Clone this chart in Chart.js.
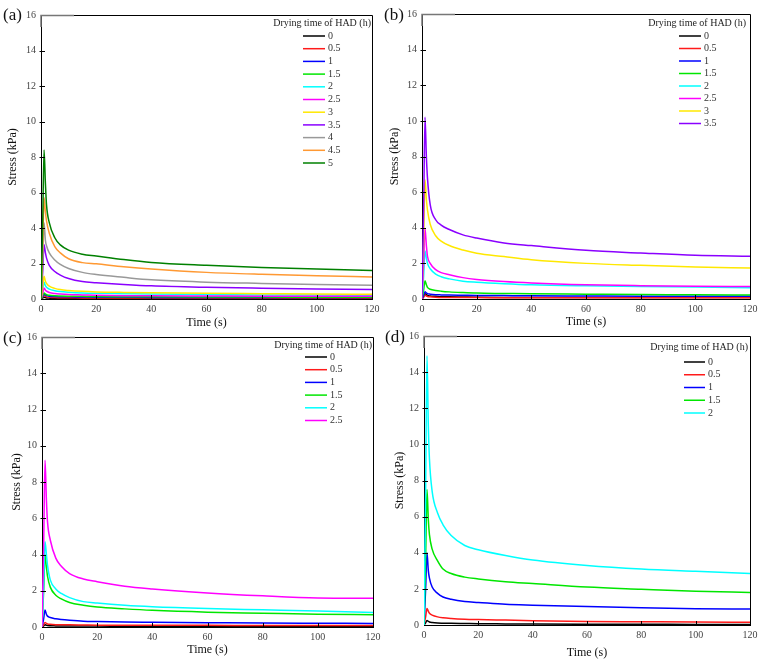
<!DOCTYPE html>
<html><head><meta charset="utf-8">
<script src="https://cdn.jsdelivr.net/npm/chart.js@4.4.1/dist/chart.umd.min.js"></script>
<style>
body{margin:0;background:#fff;width:765px;height:664px;position:relative;overflow:hidden;font-family:"Liberation Serif",serif}
canvas{position:absolute}
.lab{position:absolute;font:17px "Liberation Serif",serif;color:#111;line-height:20px}
</style></head><body>
<canvas id="ca" width="382" height="330" style="left:0;top:0"></canvas>
<canvas id="cb" width="383" height="330" style="left:382px;top:0"></canvas>
<canvas id="cc" width="382" height="334" style="left:0;top:330px"></canvas>
<canvas id="cd" width="383" height="334" style="left:382px;top:330px"></canvas>
<div class="lab" style="left:3px;top:5px">(a)</div>
<div class="lab" style="left:384px;top:5px">(b)</div>
<div class="lab" style="left:3px;top:328px">(c)</div>
<div class="lab" style="left:385px;top:327px">(d)</div>
<script>
// ---- data ----
const times = [0, 0.6, 1.1, 1.6, 2, 3, 5, 7, 10, 15, 20, 30, 40, 60, 80, 100, 120];
const xTicks = [0, 20, 40, 60, 80, 100, 120];
const yTicks = [0, 2, 4, 6, 8, 10, 12, 14, 16];
const legendTitle = 'Drying time of HAD (h)';
const xTitle = 'Time (s)';
const yTitle = 'Stress (kPa)';
const dryingTimes = ['0', '0.5', '1', '1.5', '2', '2.5', '3', '3.5', '4', '4.5', '5'];
const palette = ['#000000', '#ff1a1a', '#0000ff', '#00e600', '#00ffff', '#ff00ff', '#ffe800', '#8a00ff', '#999999', '#ff9933', '#008000'];

// panel (a)
const a_0  = [0, 0.05, 0.1, 0.08, 0.06, 0.05, 0.04, 0.04, 0.03, 0.03, 0.03, 0.03, 0.02, 0.02, 0.02, 0.02, 0.02];
const a_05 = [0, 0.1, 0.2, 0.15, 0.12, 0.1, 0.08, 0.07, 0.07, 0.06, 0.06, 0.05, 0.05, 0.05, 0.05, 0.05, 0.05];
const a_1  = [0, 0.13, 0.27, 0.22, 0.19, 0.16, 0.14, 0.13, 0.12, 0.11, 0.1, 0.1, 0.09, 0.09, 0.08, 0.08, 0.08];
const a_15 = [0, 0.17, 0.34, 0.28, 0.24, 0.21, 0.18, 0.17, 0.16, 0.15, 0.14, 0.13, 0.12, 0.11, 0.11, 0.1, 0.1];
const a_2  = [0, 0.45, 0.94, 0.75, 0.66, 0.56, 0.47, 0.42, 0.38, 0.34, 0.32, 0.3, 0.28, 0.25, 0.23, 0.22, 0.21];
const a_25 = [0, 0.3, 0.62, 0.5, 0.44, 0.37, 0.31, 0.28, 0.25, 0.23, 0.21, 0.19, 0.18, 0.17, 0.16, 0.16, 0.15];
const a_3  = [0, 0.6, 1.28, 1.0, 0.88, 0.72, 0.6, 0.53, 0.48, 0.43, 0.4, 0.37, 0.35, 0.32, 0.3, 0.28, 0.27];
const a_35 = [0, 1.5, 3.06, 2.6, 2.3, 1.9, 1.55, 1.35, 1.15, 0.98, 0.92, 0.82, 0.74, 0.66, 0.61, 0.57, 0.53];
const a_4  = [0, 2.1, 4.3, 3.3, 3.0, 2.6, 2.2, 1.95, 1.72, 1.5, 1.38, 1.22, 1.08, 0.95, 0.88, 0.82, 0.77];
const a_45 = [0, 2.8, 5.7, 4.9, 4.4, 3.7, 2.95, 2.6, 2.27, 2.05, 1.98, 1.82, 1.69, 1.5, 1.39, 1.31, 1.24];
const a_5  = [0, 4.1, 8.4, 6.5, 5.3, 4.3, 3.45, 3.05, 2.75, 2.52, 2.42, 2.22, 2.06, 1.9, 1.78, 1.69, 1.61];

// panel (b)
const b_0  = [0, 0.15, 0.3, 0.25, 0.2, 0.17, 0.15, 0.13, 0.12, 0.11, 0.1, 0.09, 0.09, 0.08, 0.08, 0.08, 0.08];
const b_05 = [0, 0.1, 0.22, 0.17, 0.14, 0.12, 0.1, 0.09, 0.09, 0.08, 0.08, 0.07, 0.07, 0.07, 0.07, 0.07, 0.07];
const b_1  = [0, 0.2, 0.41, 0.34, 0.3, 0.27, 0.24, 0.23, 0.22, 0.21, 0.2, 0.19, 0.18, 0.17, 0.16, 0.16, 0.15];
const b_15 = [0, 0.5, 1.03, 0.8, 0.65, 0.55, 0.48, 0.44, 0.4, 0.36, 0.33, 0.31, 0.29, 0.27, 0.25, 0.24, 0.22];
const b_2  = [0, 1.3, 2.7, 2.3, 2.0, 1.7, 1.4, 1.25, 1.13, 1.0, 0.94, 0.86, 0.8, 0.74, 0.7, 0.67, 0.63];
const b_25 = [0, 2.0, 3.97, 3.0, 2.4, 2.0, 1.65, 1.48, 1.36, 1.2, 1.1, 0.98, 0.9, 0.8, 0.75, 0.72, 0.7];
const b_3  = [0, 3.3, 6.7, 5.6, 5.0, 4.2, 3.55, 3.25, 3.0, 2.75, 2.57, 2.38, 2.2, 2.0, 1.89, 1.8, 1.74];
const b_35 = [0, 5.0, 10.2, 8.0, 6.8, 5.3, 4.45, 4.15, 3.9, 3.6, 3.42, 3.15, 3.0, 2.73, 2.58, 2.45, 2.4];

// panel (c)
const c_0  = [0, 0.06, 0.12, 0.1, 0.08, 0.07, 0.06, 0.05, 0.05, 0.05, 0.05, 0.04, 0.04, 0.04, 0.04, 0.04, 0.04];
const c_05 = [0, 0.12, 0.25, 0.2, 0.17, 0.15, 0.13, 0.12, 0.12, 0.11, 0.1, 0.1, 0.09, 0.09, 0.08, 0.08, 0.08];
const c_1  = [0, 0.45, 0.94, 0.7, 0.6, 0.52, 0.45, 0.41, 0.37, 0.32, 0.3, 0.27, 0.26, 0.24, 0.22, 0.21, 0.2];
const c_15 = [0, 2.0, 3.98, 3.3, 2.8, 2.2, 1.75, 1.55, 1.35, 1.2, 1.1, 1.0, 0.92, 0.82, 0.76, 0.7, 0.68];
const c_2  = [0, 2.3, 4.7, 4.0, 3.4, 2.6, 2.1, 1.85, 1.62, 1.4, 1.32, 1.2, 1.12, 1.02, 0.95, 0.88, 0.8];
const c_25 = [0, 4.5, 9.2, 7.0, 5.8, 4.8, 3.8, 3.35, 2.95, 2.65, 2.5, 2.25, 2.1, 1.88, 1.72, 1.6, 1.58];

// panel (d)
const d_0  = [0, 0.12, 0.25, 0.2, 0.17, 0.14, 0.11, 0.1, 0.09, 0.08, 0.07, 0.06, 0.05, 0.04, 0.04, 0.03, 0.03];
const d_05 = [0, 0.45, 0.92, 0.75, 0.65, 0.55, 0.45, 0.4, 0.36, 0.32, 0.3, 0.27, 0.24, 0.2, 0.18, 0.16, 0.15];
const d_1  = [0, 2.0, 4.0, 3.0, 2.6, 2.1, 1.75, 1.55, 1.42, 1.3, 1.25, 1.15, 1.1, 1.02, 0.95, 0.9, 0.88];
const d_15 = [0, 3.7, 7.5, 5.8, 5.0, 4.2, 3.55, 3.1, 2.85, 2.65, 2.55, 2.4, 2.3, 2.1, 1.98, 1.87, 1.8];
const d_2  = [0, 7.4, 14.9, 11.0, 9.2, 7.4, 6.2, 5.55, 4.95, 4.4, 4.17, 3.85, 3.6, 3.3, 3.1, 2.97, 2.85];

const seriesA = [a_0, a_05, a_1, a_15, a_2, a_25, a_3, a_35, a_4, a_45, a_5];
const seriesB = [b_0, b_05, b_1, b_15, b_2, b_25, b_3, b_35];
const seriesC = [c_0, c_05, c_1, c_15, c_2, c_25];
const seriesD = [d_0, d_05, d_1, d_15, d_2];

// ---- decoration plugin: frame, inward ticks, in-plot legend ----
const deco = {
  id: 'deco',
  afterDraw(chart, args, o) {
    const ctx = chart.ctx, a = chart.chartArea;
    const xs = chart.scales.x, ys = chart.scales.y;
    ctx.save();
    ctx.strokeStyle = '#000'; ctx.lineWidth = 1;
    ctx.beginPath();
    ctx.moveTo(a.left, a.top + 0.5); ctx.lineTo(a.right + 0.5, a.top + 0.5); ctx.lineTo(a.right + 0.5, a.bottom);
    ctx.stroke();
    // grey corner piece
    ctx.strokeStyle = '#777'; ctx.lineWidth = 1.5;
    ctx.beginPath();
    ctx.moveTo(a.left, a.top + 12); ctx.lineTo(a.left, a.top + 0.5); ctx.lineTo(a.left + 33, a.top + 0.5);
    ctx.stroke();
    // inward ticks
    ctx.strokeStyle = '#000'; ctx.lineWidth = 1;
    ctx.beginPath();
    xTicks.forEach(v => { if (v > 0 && v < 120) { const px = Math.round(xs.getPixelForValue(v)) + 0.5; ctx.moveTo(px, a.bottom); ctx.lineTo(px, a.bottom - 4); } });
    yTicks.forEach(v => { if (v > 0 && v < 16) { const py = Math.round(ys.getPixelForValue(v)) + 0.5; ctx.moveTo(a.left - 1.5, py); ctx.lineTo(a.left + 4, py); } });
    ctx.stroke();
    // legend
    ctx.font = '10px "Liberation Serif", serif';
    ctx.fillStyle = '#222';
    ctx.textBaseline = 'middle';
    ctx.textAlign = 'right';
    ctx.fillText(legendTitle, a.right + o.titleDx, a.top + o.titleDy);
    ctx.textAlign = 'left';
    chart.data.datasets.forEach((ds, i) => {
      const y = a.top + o.firstDy + i * o.step;
      ctx.strokeStyle = ds.borderColor; ctx.lineWidth = 1.5;
      ctx.beginPath(); ctx.moveTo(a.right + o.lineX1, y); ctx.lineTo(a.right + o.lineX2, y); ctx.stroke();
      ctx.fillStyle = '#333';
      ctx.fillText(ds.label, a.right + o.lineX2 + 3, y);
    });
    ctx.restore();
  }
};

function makePanel(id, series, L) {
  const n = series.length;
  const datasets = series.map((vals, i) => ({
    label: dryingTimes[i],
    data: times.map((t, k) => ({x: t, y: vals[k]})),
    borderColor: palette[i],
    backgroundColor: palette[i],
    borderWidth: 1.5,
    pointRadius: 0,
    fill: false,
    cubicInterpolationMode: 'monotone',
    order: n - i
  }));
  new Chart(document.getElementById(id), {
    type: 'line',
    data: {datasets},
    plugins: [deco],
    options: {
      responsive: false,
      animation: false,
      events: [],
      layout: {padding: {top: L.top, right: L.right, left: 0, bottom: 0}},
      plugins: {
        legend: {display: false},
        tooltip: {enabled: false},
        deco: L.legend
      },
      scales: {
        x: {
          type: 'linear', min: 0, max: 120,
          afterBuildTicks: s => { s.ticks = xTicks.map(v => ({value: v})); },
          afterFit: s => { s.height = L.xh; s.paddingLeft = 0; s.paddingRight = 0; },
          grid: {display: true, drawOnChartArea: false, drawTicks: false},
          border: {display: true, color: '#000', width: 1},
          ticks: {color: '#444', padding: 4, maxRotation: 0, font: {family: '"Liberation Serif", serif', size: 10}},
          title: {display: true, text: xTitle, color: '#111', padding: {top: 0, bottom: L.xtp}, font: {family: '"Liberation Serif", serif', size: 12}}
        },
        y: {
          min: 0, max: 16,
          afterBuildTicks: s => { s.ticks = yTicks.map(v => ({value: v})); },
          afterFit: s => { s.width = L.yw; s.paddingTop = 0; s.paddingBottom = 0; },
          grid: {display: true, drawOnChartArea: false, drawTicks: false},
          border: {display: true, color: '#000', width: 1},
          ticks: {color: '#444', padding: 5, font: {family: '"Liberation Serif", serif', size: 10}},
          title: {display: true, text: yTitle, color: '#111', padding: {top: L.ytp, bottom: 0}, font: {family: '"Liberation Serif", serif', size: 12}}
        }
      }
    }
  });
}

makePanel('ca', seriesA, {top: 15, right: 10, xh: 31, yw: 41, xtp: 0, ytp: 6,
  legend: {titleDx: -1, titleDy: 8, lineX1: -69, lineX2: -47, firstDy: 21, step: 12.7}});
makePanel('cb', seriesB, {top: 14, right: 15, xh: 31, yw: 40, xtp: 1, ytp: 6,
  legend: {titleDx: -4, titleDy: 9, lineX1: -71, lineX2: -49, firstDy: 22, step: 12.5}});
makePanel('cc', seriesC, {top: 7, right: 9, xh: 37, yw: 42, xtp: 7, ytp: 10,
  legend: {titleDx: -1, titleDy: 8, lineX1: -68, lineX2: -46, firstDy: 20, step: 12.7}});
makePanel('cd', seriesD, {top: 6, right: 15, xh: 39, yw: 42, xtp: 4, ytp: 11,
  legend: {titleDx: -2, titleDy: 11, lineX1: -66, lineX2: -45, firstDy: 26, step: 12.75}});
</script>
</body></html>
